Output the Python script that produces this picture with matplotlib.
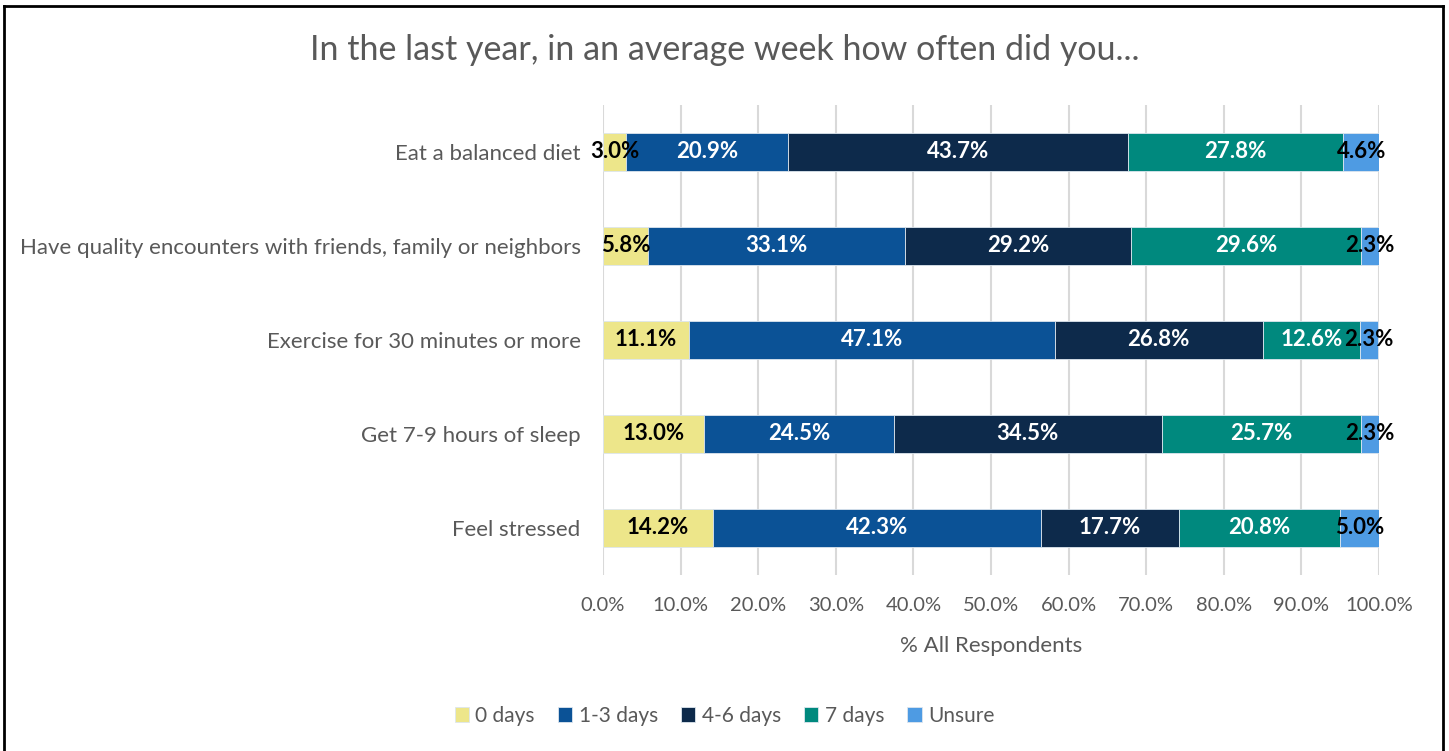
import matplotlib.pyplot as plt
import numpy as np
from matplotlib.lines import Line2D

plt.rcParams['font.family'] = ['Lato', 'DejaVu Sans']

activities = ['Eat a balanced diet',
              'Have quality encounters with friends, family or neighbors',
              'Exercise for 30 minutes or more',
              'Get 7-9 hours of sleep',
              'Feel stressed']
answers = ['0 days', '1-3 days', '4-6 days', '7 days', 'Unsure']
zero_days = [3.0, 5.8, 11.1, 13.0, 14.2]
one_three = [20.9, 33.1, 47.1, 24.5, 42.3]
four_six = [43.7, 29.2, 26.8, 34.5, 17.7]
seven_days = [27.8, 29.6, 12.6, 25.7, 20.8]
unsure = [4.6, 2.3, 2.3, 2.3, 5.0]

colors = ['#EDE68A', '#0B5296', '#0D2A4B', '#00897E', '#4E9BE3']
label_colors = ['black', 'white', 'white', 'white', 'black']
grey = '#595959'

fig = plt.figure(figsize=(14.49, 7.51), dpi=100)
ax = fig.add_axes([0.4161, 0.2344, 0.5356, 0.6258])

y = np.arange(len(activities))
left = np.zeros(len(activities))
series = [zero_days, one_three, four_six, seven_days, unsure]
for vals, name, col, lcol in zip(series, answers, colors, label_colors):
    vals = np.array(vals)
    ax.barh(y, vals, left=left, height=0.4, color=col, edgecolor='#DDE6EE',
            linewidth=0.6, label=name, zorder=2)
    for yi, l, v in zip(y, left, vals):
        ax.text(l + v / 2, yi, '%.1f%%' % v, ha='center', va='center',
                color=lcol, fontsize=16, fontweight='bold', zorder=3)
    left += vals

ax.set_xlim(0, 100)
ax.set_ylim(len(activities) - 0.5, -0.5)
ax.set_yticks(y)
ax.set_yticklabels(activities, fontsize=16, color=grey)
ax.set_xticks(np.arange(0, 101, 10))
ax.set_xticklabels(['%.1f%%' % t for t in range(0, 101, 10)], fontsize=14.5, color=grey)
ax.tick_params(axis='x', length=0, pad=16)
ax.tick_params(axis='y', length=0, pad=16)
ax.grid(axis='x', color='#D9D9D9', linewidth=1.5, zorder=0)
ax.set_axisbelow(True)
for s in ax.spines.values():
    s.set_visible(False)
ax.set_xlabel('% All Respondents', fontsize=16, color=grey, labelpad=16)

fig.text(0.5, 0.933, 'In the last year, in an average week how often did you...',
         ha='center', va='center', fontsize=24.5, color=grey)

fig.legend(loc='center', bbox_to_anchor=(0.5, 0.047), ncol=5, frameon=False,
           fontsize=15, labelcolor=grey, handlelength=0.7, handleheight=0.7,
           handletextpad=0.3, columnspacing=1.1)

# outer frame (top, left, right)
for xs, ys in [([0.003, 0.996], [0.992, 0.992]),
               ([0.003, 0.003], [0.0, 0.992]),
               ([0.996, 0.996], [0.0, 0.992])]:
    fig.add_artist(Line2D(xs, ys, transform=fig.transFigure, color='black', linewidth=2))

fig.savefig('out.png', dpi=100)
